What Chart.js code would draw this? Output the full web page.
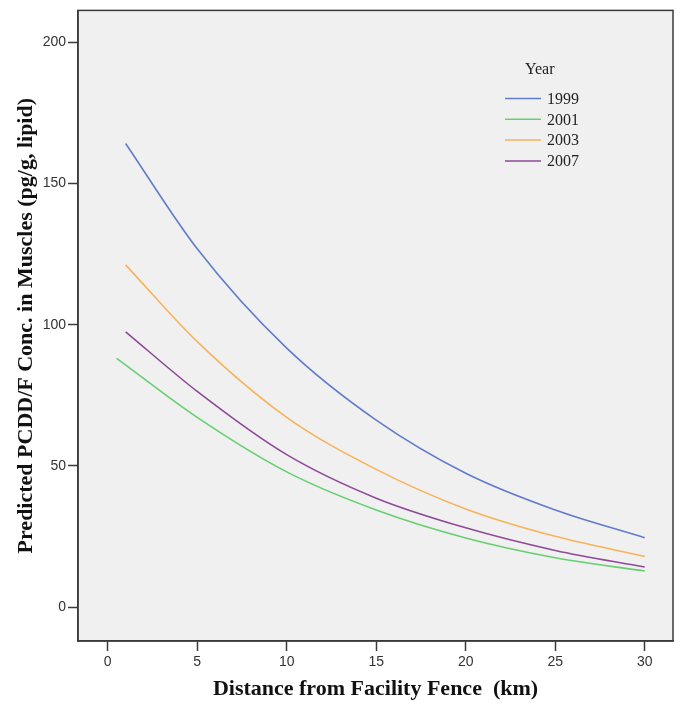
<!DOCTYPE html>
<html>
<head>
<meta charset="utf-8">
<script src="https://cdn.jsdelivr.net/npm/chart.js@4"></script>
<style>
  body { margin: 0; background: #ffffff; }
  canvas { display: block; }
</style>
</head>
<body>
<canvas id="pcddChart" width="682" height="708"></canvas>
<script>
// values (km, pg/g lipid)
const years = ['1999', '2001', '2003', '2007'];
const distMain = [1, 5, 10, 15, 20, 25, 30];
const dist2001 = [0.5, 5, 10, 15, 20, 25, 30];
const conc1999 = [164.2, 126.9, 91.7, 66.2, 47.4, 34.4, 24.6];
const conc2001 = [88.1, 67.2, 47.9, 34.4, 24.5, 17.5, 12.8];
const conc2003 = [121.2, 94.0, 67.2, 48.8, 34.8, 25.1, 18.0];
const conc2007 = [97.5, 76.4, 54.0, 38.6, 28.1, 20.1, 14.2];
const xTicks = [0, 5, 10, 15, 20, 25, 30];
const yTicks = [0, 50, 100, 150, 200];

const colors = ['rgb(96,124,204)', 'rgb(102,208,112)', 'rgb(250,178,90)', 'rgb(142,74,152)'];

function toPoints(xs, ys) {
  return xs.map((x, i) => ({ x: x, y: ys[i] }));
}

const seriesPoints = [
  toPoints(distMain, conc1999),
  toPoints(dist2001, conc2001),
  toPoints(distMain, conc2003),
  toPoints(distMain, conc2007)
];

// grey plot background + frame around chart area
const frame = {
  id: 'frame',
  beforeDraw(chart) {
    const a = chart.chartArea, ctx = chart.ctx;
    ctx.save();
    ctx.fillStyle = '#f0f0f0';
    ctx.fillRect(a.left, a.top, a.right - a.left, a.bottom - a.top);
    ctx.restore();
  },
  afterDraw(chart) {
    const a = chart.chartArea, ctx = chart.ctx;
    ctx.save();
    ctx.strokeStyle = '#3a3a3a';
    ctx.lineWidth = 1.5;
    ctx.strokeRect(a.left, a.top, a.right - a.left, a.bottom - a.top);
    ctx.restore();
  }
};

// legend in the upper right, like the original
const yearLegend = {
  id: 'yearLegend',
  afterDraw(chart) {
    const ctx = chart.ctx;
    ctx.save();
    ctx.font = '16px "Liberation Serif", serif';
    ctx.fillStyle = '#222';
    ctx.textBaseline = 'middle';
    ctx.fillText('Year', 525, 70);
    chart.data.datasets.forEach((ds, i) => {
      const y = 98.5 + i * 20.8;
      ctx.strokeStyle = ds.borderColor;
      ctx.lineWidth = 1.5;
      ctx.beginPath();
      ctx.moveTo(505, y);
      ctx.lineTo(541, y);
      ctx.stroke();
      ctx.fillText(ds.label, 547, y + 1);
    });
    ctx.restore();
  }
};

new Chart(document.getElementById('pcddChart'), {
  type: 'line',
  data: {
    datasets: years.map((yr, i) => ({
      label: yr,
      data: seriesPoints[i],
      borderColor: colors[i],
      backgroundColor: colors[i],
      borderWidth: 1.6,
      pointRadius: 0,
      cubicInterpolationMode: 'monotone',
      fill: false
    }))
  },
  options: {
    responsive: false,
    animation: false,
    layout: { padding: { top: 7, right: 9, left: 0, bottom: 0 } },
    plugins: {
      legend: { display: false },
      tooltip: { enabled: false }
    },
    scales: {
      x: {
        type: 'linear',
        min: -1.66,
        max: 31.58,
        afterBuildTicks: s => { s.ticks = xTicks.map(v => ({ value: v })); },
        afterFit: s => { s.height = 67; },
        grid: { drawOnChartArea: false, tickLength: 10, tickWidth: 1.5, tickColor: '#3a3a3a' },
        border: { display: true, color: '#3a3a3a', width: 1.5 },
        ticks: {
          padding: 3,
          color: '#333',
          font: { family: '"Liberation Sans", Arial, sans-serif', size: 14 }
        },
        title: {
          display: true,
          text: 'Distance from Facility Fence  (km)',
          color: '#111',
          padding: { bottom: 5 },
          font: { family: '"Liberation Serif", "Times New Roman", serif', size: 22, weight: 'bold' }
        }
      },
      y: {
        type: 'linear',
        min: -11.97,
        max: 211.3,
        afterBuildTicks: s => { s.ticks = yTicks.map(v => ({ value: v })); },
        afterFit: s => { s.width = 78; },
        grid: { drawOnChartArea: false, tickLength: 10, tickWidth: 1.5, tickColor: '#3a3a3a' },
        border: { display: true, color: '#3a3a3a', width: 1.5 },
        ticks: {
          padding: 2,
          color: '#333',
          font: { family: '"Liberation Sans", Arial, sans-serif', size: 14 }
        },
        title: {
          display: true,
          text: 'Predicted PCDD/F Conc. in Muscles (pg/g, lipid)',
          color: '#111',
          padding: { top: 13 },
          font: { family: '"Liberation Serif", "Times New Roman", serif', size: 22, weight: 'bold' }
        }
      }
    }
  },
  plugins: [frame, yearLegend]
});
</script>
</body>
</html>
